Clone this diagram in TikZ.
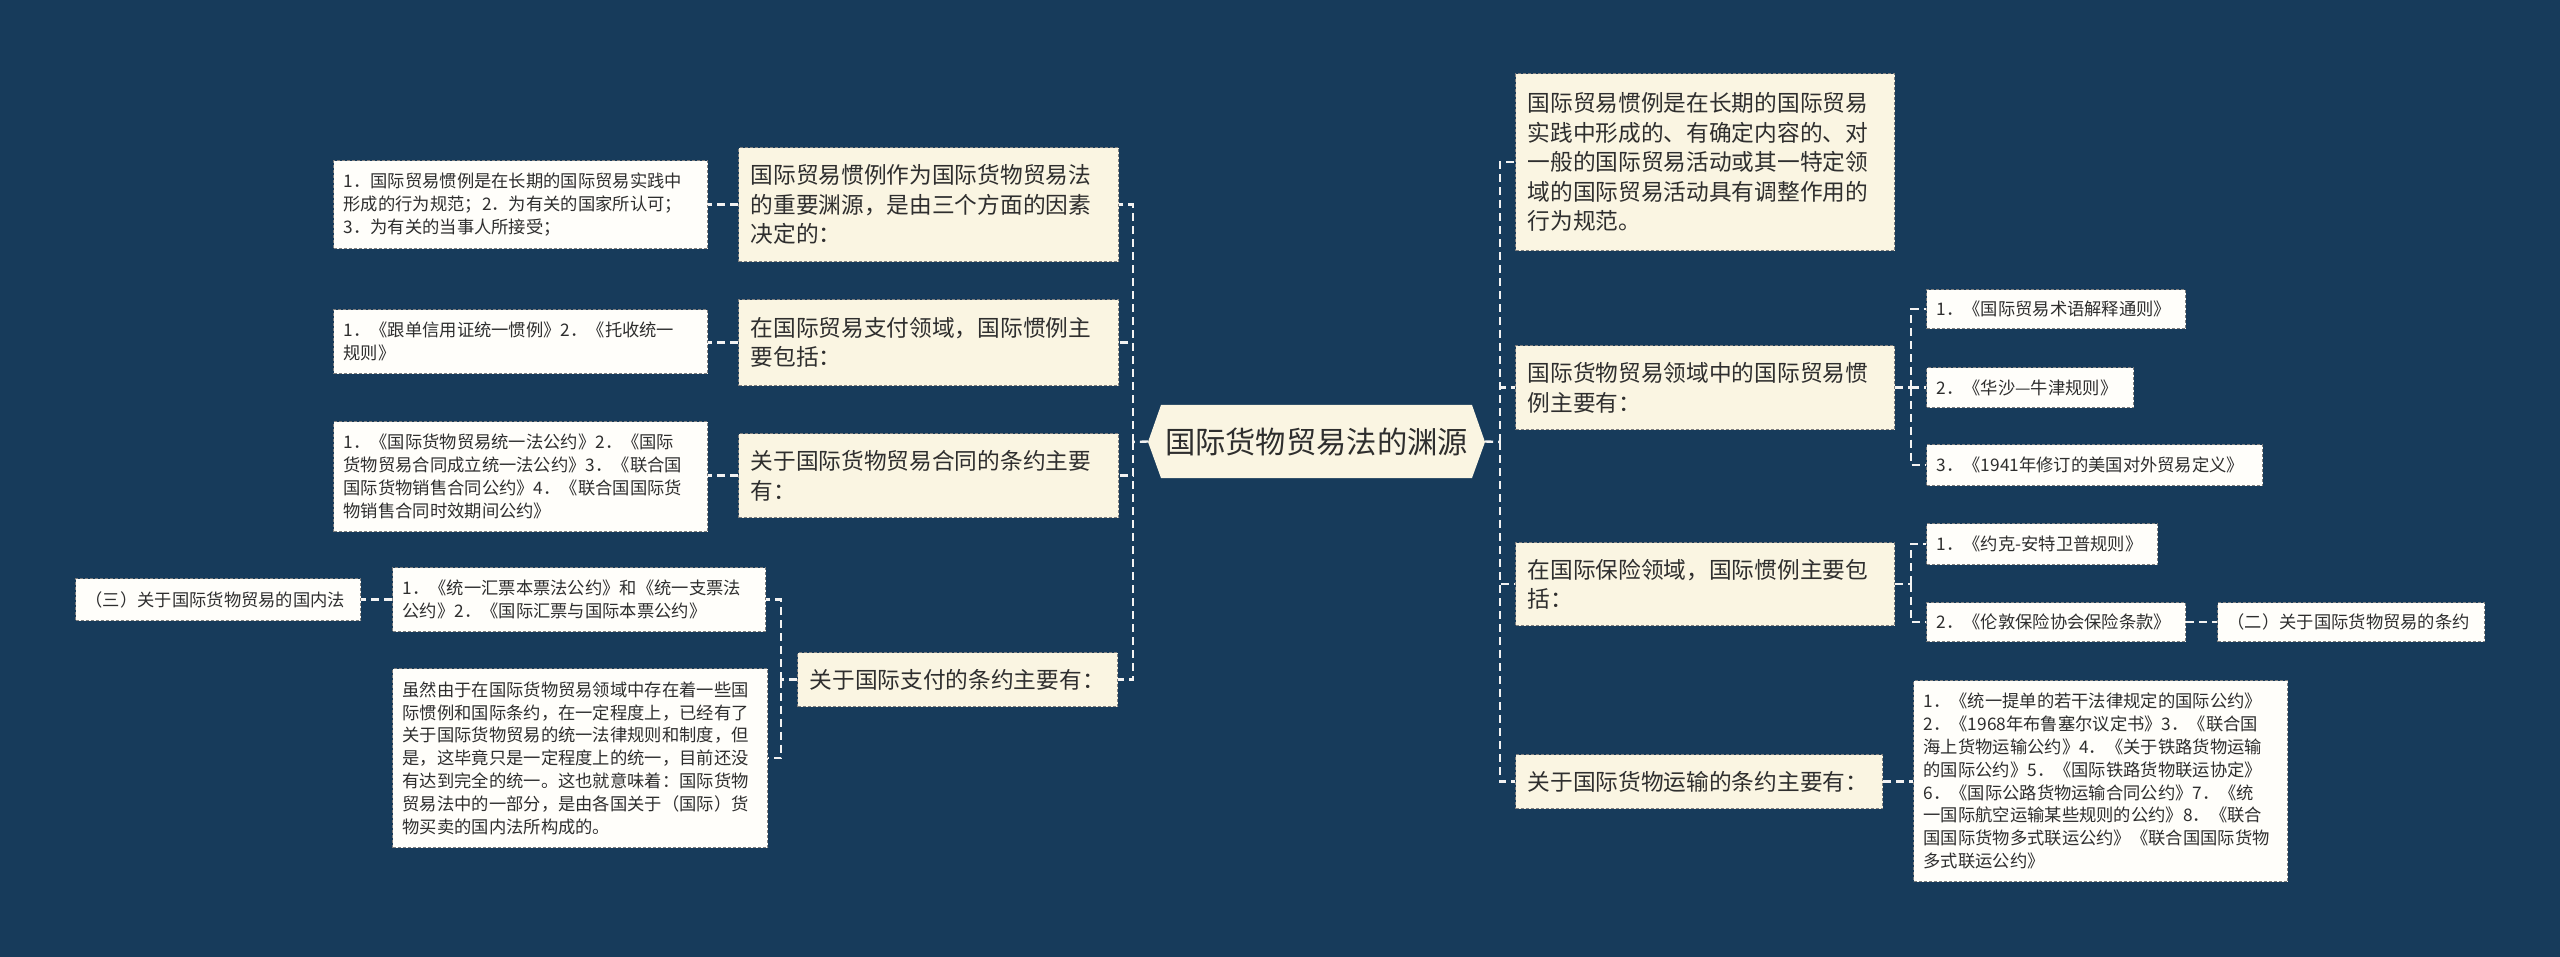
\documentclass[tikz,border=0pt]{standalone}
\usepackage{fontspec}
\setmainfont{Noto Sans CJK SC}
\definecolor{bg}{HTML}{173B5B}
\definecolor{cream}{HTML}{FAF5E2}
\definecolor{paper}{HTML}{FFFEFA}
\definecolor{edge}{HTML}{7E7E7E}
\definecolor{ink}{HTML}{2E2E2E}
\definecolor{wire}{HTML}{F2F2F2}
\begin{document}
\begin{tikzpicture}[x=1pt,y=-1pt,
  box/.style={draw=edge, line width=1.2pt, dash pattern=on 3pt off 2pt, text=ink, align=left, anchor=north west, inner ysep=0pt},
  mainbox/.style={box, fill=cream, inner xsep=12pt, font=\fontsize{22.7}{29.5}\selectfont},
  subbox/.style={box, fill=paper, inner xsep=10pt, font=\fontsize{17.3}{22.8}\selectfont},
  conn/.style={draw=wire, line width=2.4pt, dash pattern=on 8pt off 5pt}]
\useasboundingbox (0,0) rectangle (2560,957);
\fill[bg] (0,0) rectangle (2560,957);

% central node
\fill[cream] (1148,442) -- (1161,405) -- (1472,405) -- (1485,442) -- (1472,478) -- (1161,478) -- cycle;
\node[text=ink, minimum width=337pt, minimum height=73pt, inner sep=0pt, font=\fontsize{30.3}{36}\selectfont] (C) at (1316.5,441.5) {国际货物贸易法的渊源};

% left level 1
\node[mainbox, text width=356pt, minimum height=114pt] (L1) at (738,147) {国际贸易惯例作为国际货物贸易法\\的重要渊源，是由三个方面的因素\\决定的：};
\node[mainbox, text width=356pt, minimum height=86pt] (L2) at (738,299) {在国际贸易支付领域，国际惯例主\\要包括：};
\node[mainbox, text width=356pt, minimum height=84pt] (L3) at (738,433) {关于国际货物贸易合同的条约主要\\有：};
\node[mainbox, text width=296pt, minimum height=54pt] (L4) at (797,652) {关于国际支付的条约主要有：};

% left level 2
\node[subbox, text width=354pt, minimum height=88pt] (L1a) at (333,160) {1．国际贸易惯例是在长期的国际贸易实践中\\形成的行为规范；2．为有关的国家所认可；\\3．为有关的当事人所接受；};
\node[subbox, text width=354pt, minimum height=64pt] (L2a) at (333,309) {1．《跟单信用证统一惯例》2．《托收统一\\规则》};
\node[subbox, text width=354pt, minimum height=110pt] (L3a) at (333,421) {1．《国际货物贸易统一法公约》2．《国际\\货物贸易合同成立统一法公约》3．《联合国\\国际货物销售合同公约》4．《联合国国际货\\物销售合同时效期间公约》};
\node[subbox, text width=353pt, minimum height=64pt] (L4a) at (392,567) {1．《统一汇票本票法公约》和《统一支票法\\公约》2．《国际汇票与国际本票公约》};
\node[subbox, text width=355pt, minimum height=179pt] (L4b) at (392,668) {虽然由于在国际货物贸易领域中存在着一些国\\际惯例和国际条约，在一定程度上，已经有了\\关于国际货物贸易的统一法律规则和制度，但\\是，这毕竟只是一定程度上的统一，目前还没\\有达到完全的统一。这也就意味着：国际货物\\贸易法中的一部分，是由各国关于（国际）货\\物买卖的国内法所构成的。};
\node[subbox, text width=265pt, minimum height=42pt] (L4c) at (75,578) {（三）关于国际货物贸易的国内法};

% right level 1
\node[mainbox, text width=355pt, minimum height=177pt] (R1) at (1515,73) {国际贸易惯例是在长期的国际贸易\\实践中形成的、有确定内容的、对\\一般的国际贸易活动或其一特定领\\域的国际贸易活动具有调整作用的\\行为规范。};
\node[mainbox, text width=355pt, minimum height=84pt] (R2) at (1515,345) {国际货物贸易领域中的国际贸易惯\\例主要有：};
\node[mainbox, text width=355pt, minimum height=83pt] (R3) at (1515,542) {在国际保险领域，国际惯例主要包\\括：};
\node[mainbox, text width=343pt, minimum height=54pt] (R4) at (1515,754) {关于国际货物运输的条约主要有：};

% right level 2
\node[subbox, text width=239pt, minimum height=39pt] (R2a) at (1926,289) {1．《国际贸易术语解释通则》};
\node[subbox, text width=187pt, minimum height=40pt] (R2b) at (1926,367) {2．《华沙—牛津规则》};
\node[subbox, text width=316pt, minimum height=41pt] (R2c) at (1926,444) {3．《1941年修订的美国对外贸易定义》};
\node[subbox, text width=211pt, minimum height=41pt] (R3a) at (1926,523) {1．《约克-安特卫普规则》};
\node[subbox, text width=239pt, minimum height=39pt] (R3b) at (1926,602) {2．《伦敦保险协会保险条款》};
\node[subbox, text width=247pt, minimum height=39pt] (R3c) at (2217,602) {（二）关于国际货物贸易的条约};
\node[subbox, text width=354pt, minimum height=201pt] (R4a) at (1913,680) {1．《统一提单的若干法律规定的国际公约》\\2．《1968年布鲁塞尔议定书》3．《联合国\\海上货物运输公约》4．《关于铁路货物运输\\的国际公约》5．《国际铁路货物联运协定》\\6．《国际公路货物运输合同公约》7．《统\\一国际航空运输某些规则的公约》8．《联合\\国国际货物多式联运公约》《联合国国际货物\\多式联运公约》};

% connectors: centre to level 1
\coordinate (rt) at (1500,442);
\coordinate (lt) at (1133,442);
\draw[conn] (C.east) -- (rt);
\draw[conn] (C.west) -- (lt);
\foreach \n in {R1,R2,R3,R4} \draw[conn] (rt) |- (\n.west);
\foreach \n in {L1,L2,L3,L4} \draw[conn] (lt) |- (\n.east);

% left level 2
\draw[conn] (L1.west) -- (L1.west -| L1a.east);
\draw[conn] (L2.west) -- (L2.west -| L2a.east);
\draw[conn] (L3.west) -- (L3.west -| L3a.east);
\draw[conn] (L4.west) -- ++(-16,0) coordinate (l4t);
\draw[conn] (l4t) |- (L4a.east);
\draw[conn] (l4t) |- (L4b.east);
\draw[conn] (L4a.west) -- (L4a.west -| L4c.east);

% right level 2
\draw[conn] (R2.east) -- ++(16,0) coordinate (r2t);
\foreach \n in {R2a,R2b,R2c} \draw[conn] (r2t) |- (\n.west);
\draw[conn] (R3.east) -- ++(16,0) coordinate (r3t);
\foreach \n in {R3a,R3b} \draw[conn] (r3t) |- (\n.west);
\draw[conn] (R3b.east) -- (R3b.east -| R3c.west);
\draw[conn] (R4.east) -- (R4.east -| R4a.west);
\end{tikzpicture}
\end{document}
